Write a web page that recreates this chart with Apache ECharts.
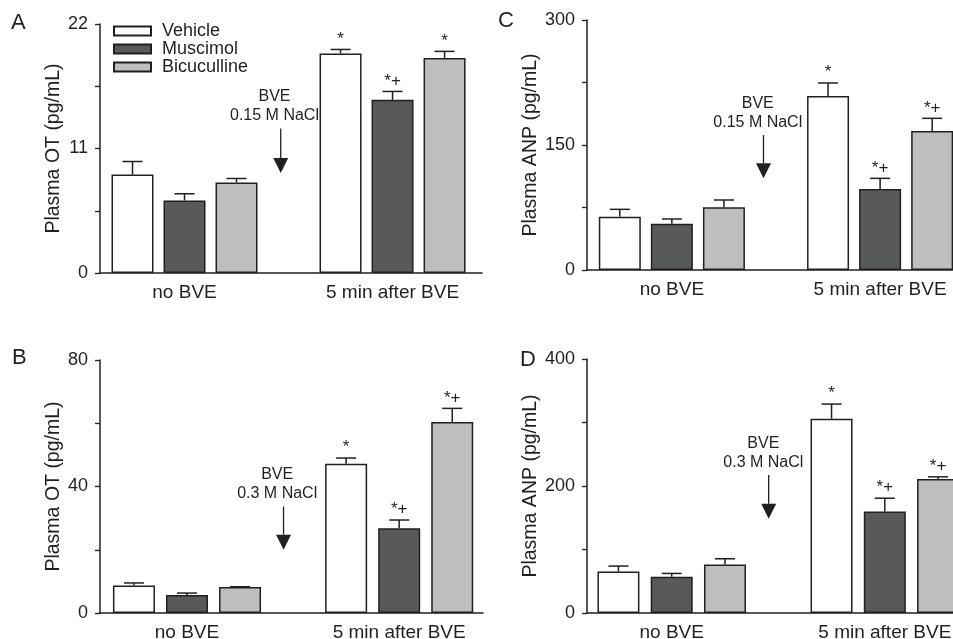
<!DOCTYPE html>
<html>
<head>
<meta charset="utf-8">
<script src="https://cdn.jsdelivr.net/npm/echarts@6/dist/echarts.min.js"></script>
<style>
  html, body { margin: 0; padding: 0; background: #fff; }
  #chart { width: 953px; height: 639px; }
</style>
</head>
<body>
<div id="chart"></div>
<script>
// groups and treatments
const groups = ['no BVE', '5 min after BVE']
const treatments = ['Vehicle', 'Muscimol', 'Bicuculline']
// bar slots: no BVE = 0,1,2 ; 5 min after BVE = 4,5,6 (slot 3 is the BVE arrow)
const slots = [0, 1, 2, 4, 5, 6]

// A: plasma OT, 0.15 M NaCl  (order: V, M, B no BVE, then V, M, B after BVE)
const otIso = [8.7, 6.4, 8.0, 19.4, 15.3, 19.0]
const otIsoSem = [1.15, 0.6, 0.35, 0.35, 0.74, 0.58]
// B: plasma OT, 0.3 M NaCl
const otHyper = [8.7, 5.7, 8.2, 47.2, 26.8, 60.4]
const otHyperSem = [0.8, 0.6, 0.1, 1.8, 2.6, 4.3]
// C: plasma ANP, 0.15 M NaCl
const anpIso = [64, 55.6, 75.2, 208.8, 97.2, 166.8]
const anpIsoSem = [8.8, 5.6, 8.8, 15.6, 12.8, 15.2]
// D: plasma ANP, 0.3 M NaCl
const anpHyper = [65.4, 57.1, 76.4, 306, 159.8, 211.2]
const anpHyperSem = [8.5, 5.2, 9.0, 23, 21, 3.2]

// significance marks
const marksA = ['', '', '', '*', '*+', '*']
const marksB = ['', '', '', '*', '*+', '*+']
const marksC = ['', '', '', '*', '*+', '*+']
const marksD = ['', '', '', '*', '*+', '*+']

// y axis ticks (max, step)
const yMax = [22, 80, 300, 400]
const yStep = [5.5, 20, 75, 100]

// arrow annotation: [text slot, arrow slot, arrow start value, arrow tip value]
const arrowA = [2.73, 2.85, 12.76, 8.83]
const arrowB = [2.70, 2.82, 33.7, 20]
const arrowC = [2.65, 2.76, 162, 110]
const arrowD = [2.72, 2.82, 217.5, 148.3]
const arrowText = ['BVE\n0.15 M NaCl', 'BVE\n0.3 M NaCl', 'BVE\n0.15 M NaCl', 'BVE\n0.3 M NaCl']

const font = '"Liberation Sans", Arial, Helvetica, sans-serif'
const ink = '#231f20'
const colors = ['#ffffff', '#58595b', '#bcbec0']

const panels = [
  { letter: 'A', name: 'Plasma OT (pg/mL)', vals: otIso, sem: otIsoSem, marks: marksA, arrow: arrowA,
    grid: { left: 100, top: 24, width: 382, height: 249 }, xMin: -0.625, xMax: 6.72, nameGap: 33, lt: [11, 12] },
  { letter: 'B', name: 'Plasma OT (pg/mL)', vals: otHyper, sem: otHyperSem, marks: marksB, arrow: arrowB,
    grid: { left: 100, top: 360, width: 383, height: 253 }, xMin: -0.64, xMax: 6.58, nameGap: 35.5, lt: [12, 347] },
  { letter: 'C', name: 'Plasma ANP (pg/mL)', vals: anpIso, sem: anpIsoSem, marks: marksC, arrow: arrowC,
    grid: { left: 587, top: 20, width: 366, height: 250 }, xMin: -0.63, xMax: 6.40, nameGap: 45, lt: [498, 10] },
  { letter: 'D', name: 'Plasma ANP (pg/mL)', vals: anpHyper, sem: anpHyperSem, marks: marksD, arrow: arrowD,
    grid: { left: 587, top: 359, width: 366, height: 254 }, xMin: -0.59, xMax: 6.28, nameGap: 46.5, lt: [520, 349] }
]

function errorSeries(i, p) {
  return {
    type: 'custom',
    xAxisIndex: i,
    yAxisIndex: i,
    silent: true,
    z: 3,
    data: slots.map((x, k) => [x, p.vals[k], p.sem[k]]),
    renderItem: function (params, api) {
      const x = api.value(0), m = api.value(1), e = api.value(2)
      const base = api.coord([x, m])
      const top = api.coord([x, m + e])
      const children = [
        { type: 'line', shape: { x1: base[0], y1: base[1], x2: top[0], y2: top[1] }, style: { stroke: ink, lineWidth: 1.5 } },
        { type: 'line', shape: { x1: top[0] - 10, y1: top[1], x2: top[0] + 10, y2: top[1] }, style: { stroke: ink, lineWidth: 1.5 } }
      ]
      const mark = p.marks[params.dataIndex]
      if (mark) {
        children.push({
          type: 'text', x: top[0], y: top[1] - 2,
          style: { text: mark, textAlign: 'center', textVerticalAlign: 'bottom', fontSize: 17, fontFamily: font, fill: ink }
        })
      }
      return { type: 'group', children: children }
    }
  }
}

function arrowSeries(i, p) {
  return {
    type: 'custom',
    xAxisIndex: i,
    yAxisIndex: i,
    silent: true,
    data: [p.arrow],
    renderItem: function (params, api) {
      const t = api.coord([api.value(0), api.value(2)])
      const s = api.coord([api.value(1), api.value(2)])
      const tip = api.coord([api.value(1), api.value(3)])
      return {
        type: 'group',
        children: [
          { type: 'text', x: t[0], y: s[1] - 3,
            style: { text: arrowText[i], textAlign: 'center', textVerticalAlign: 'bottom', fontSize: 16, lineHeight: 19, fontFamily: font, fill: ink } },
          { type: 'line', shape: { x1: s[0], y1: s[1], x2: tip[0], y2: tip[1] - 15 }, style: { stroke: ink, lineWidth: 1.3 } },
          { type: 'polygon', shape: { points: [[tip[0], tip[1]], [tip[0] - 7.5, tip[1] - 15], [tip[0] + 7.5, tip[1] - 15]] }, style: { fill: ink } }
        ]
      }
    }
  }
}

const option = {
  animation: false,
  title: panels.map(p => ({
    text: p.letter, left: p.lt[0], top: p.lt[1], padding: 0,
    textStyle: { fontSize: 22, fontWeight: 'normal', fontFamily: font, color: ink }
  })),
  legend: {
    data: treatments,
    orient: 'vertical',
    left: 113,
    top: 22,
    padding: 0,
    itemWidth: 37,
    itemHeight: 9,
    itemGap: 0,
    icon: 'rect',
    textStyle: { fontSize: 18, lineHeight: 17, fontFamily: font, color: ink, padding: [0, 0, 0, 6] }
  },
  grid: panels.map(p => Object.assign({ outerBoundsMode: 'none', containLabel: false }, p.grid)),
  xAxis: panels.map((p, i) => ({
    type: 'value',
    gridIndex: i,
    min: p.xMin,
    max: p.xMax,
    splitLine: { show: false },
    axisTick: { show: false },
    axisLine: { show: true, onZero: false, lineStyle: { color: ink, width: 1.5 } },
    axisLabel: {
      customValues: [1, 5],
      formatter: v => (v < 3 ? groups[0] : groups[1]),
      fontSize: 19, fontFamily: font, color: ink, margin: 10
    }
  })),
  yAxis: panels.map((p, i) => ({
    type: 'value',
    gridIndex: i,
    min: 0,
    max: yMax[i],
    interval: yStep[i],
    name: p.name,
    nameLocation: 'middle',
    nameRotate: 90,
    nameGap: p.nameGap,
    nameTextStyle: { fontSize: 19.5, fontFamily: font, color: ink },
    splitLine: { show: false },
    axisLine: { show: true, onZero: false, lineStyle: { color: ink, width: 1.5 } },
    axisTick: { show: true, length: 5, lineStyle: { color: ink, width: 1.3 } },
    axisLabel: {
      fontSize: 18, fontFamily: font, color: ink, margin: 12,
      formatter: v => (Math.round(v / yStep[i]) % 2 === 0 ? String(v) : '')
    }
  })),
  series: []
}

panels.forEach((p, i) => {
  treatments.forEach((t, j) => {
    option.series.push({
      name: t,
      type: 'bar',
      xAxisIndex: i,
      yAxisIndex: i,
      barWidth: 42,
      barGap: '-100%',
      itemStyle: { color: colors[j], borderColor: ink, borderWidth: 1.5 },
      data: [[slots[j], p.vals[j]], [slots[j + 3], p.vals[j + 3]]]
    })
  })
  option.series.push(errorSeries(i, p))
  option.series.push(arrowSeries(i, p))
})

const chart = echarts.init(document.getElementById('chart'))
chart.setOption(option)
</script>
</body>
</html>
